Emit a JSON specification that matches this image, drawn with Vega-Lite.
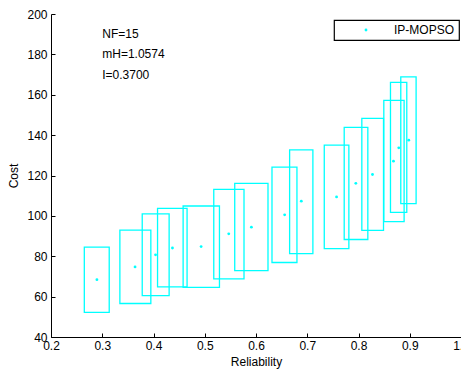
{
  "$schema": "https://vega.github.io/schema/vega-lite/v6.json",
  "width": 410,
  "height": 323,
  "autosize": {"type": "none"},
  "padding": {"left": 51, "top": 14, "right": 0, "bottom": 34},
  "background": "white",
  "config": {
    "view": {"stroke": null},
    "font": "Liberation Sans",
    "axis": {
      "grid": false,
      "domainColor": "black",
      "tickColor": "black",
      "labelColor": "black",
      "titleColor": "black",
      "labelFont": "Liberation Sans",
      "titleFont": "Liberation Sans",
      "labelFontSize": 12,
      "titleFontSize": 12,
      "titleFontWeight": "normal",
      "tickSize": -4,
      "domainWidth": 1,
      "tickWidth": 1
    },
    "legend": {
      "orient": "none",
      "legendX": 283,
      "legendY": 6,
      "strokeColor": "black",
      "strokeWidth": 1.2,
      "fillColor": "white",
      "padding": 4,
      "symbolOffset": 22,
      "labelOffset": 22,
      "labelFontSize": 12,
      "labelFont": "Liberation Sans",
      "labelColor": "black",
      "symbolType": "circle",
      "symbolSize": 8,
      "symbolStrokeWidth": 0
    }
  },
  "data": {
    "values": [
      {"r": 0.2896, "c": 68.4, "r1": 0.265, "r2": 0.3136, "c1": 52.2, "c2": 84.5, "series": "IP-MOPSO"},
      {"r": 0.364, "c": 74.7, "r1": 0.3344, "r2": 0.3948, "c1": 56.6, "c2": 92.9, "series": "IP-MOPSO"},
      {"r": 0.404, "c": 80.7, "r1": 0.378, "r2": 0.4305, "c1": 60.5, "c2": 101.0, "series": "IP-MOPSO"},
      {"r": 0.437, "c": 84.1, "r1": 0.4079, "r2": 0.4655, "c1": 64.8, "c2": 103.7, "series": "IP-MOPSO"},
      {"r": 0.4929, "c": 84.8, "r1": 0.4578, "r2": 0.5287, "c1": 64.6, "c2": 104.9, "series": "IP-MOPSO"},
      {"r": 0.5468, "c": 91.1, "r1": 0.5176, "r2": 0.5766, "c1": 68.8, "c2": 113.1, "series": "IP-MOPSO"},
      {"r": 0.591, "c": 94.4, "r1": 0.5585, "r2": 0.6234, "c1": 72.9, "c2": 116.1, "series": "IP-MOPSO"},
      {"r": 0.6559, "c": 100.5, "r1": 0.6312, "r2": 0.6799, "c1": 76.9, "c2": 124.1, "series": "IP-MOPSO"},
      {"r": 0.6884, "c": 107.3, "r1": 0.6656, "r2": 0.711, "c1": 81.3, "c2": 132.7, "series": "IP-MOPSO"},
      {"r": 0.7572, "c": 109.4, "r1": 0.7332, "r2": 0.7812, "c1": 83.8, "c2": 135.0, "series": "IP-MOPSO"},
      {"r": 0.7948, "c": 116.1, "r1": 0.7721, "r2": 0.8182, "c1": 88.3, "c2": 143.8, "series": "IP-MOPSO"},
      {"r": 0.8273, "c": 120.5, "r1": 0.8065, "r2": 0.8488, "c1": 92.8, "c2": 148.3, "series": "IP-MOPSO"},
      {"r": 0.8682, "c": 127.1, "r1": 0.8494, "r2": 0.889, "c1": 97.2, "c2": 157.2, "series": "IP-MOPSO"},
      {"r": 0.8786, "c": 133.7, "r1": 0.8624, "r2": 0.8942, "c1": 101.7, "c2": 166.1, "series": "IP-MOPSO"},
      {"r": 0.8981, "c": 137.5, "r1": 0.8825, "r2": 0.9124, "c1": 106.1, "c2": 168.9, "series": "IP-MOPSO"}
    ]
  },
  "layer": [
    {
      "mark": {"type": "rect", "fill": null, "fillOpacity": 0, "stroke": "#00FFFF", "strokeWidth": 1.3},
      "encoding": {
        "x": {"field": "r1", "type": "quantitative", "scale": {"domain": [0.2, 1], "nice": false, "zero": false},
          "axis": {"title": "Reliability", "values": [0.2, 0.3, 0.4, 0.5, 0.6, 0.7, 0.8, 0.9, 1], "labelPadding": 7, "titlePadding": 5, "labelFlush": false, "labelOverlap": false}},
        "x2": {"field": "r2"},
        "y": {"field": "c1", "type": "quantitative", "scale": {"domain": [40, 200], "nice": false, "zero": false},
          "axis": {"title": "Cost", "values": [40, 60, 80, 100, 120, 140, 160, 180, 200], "labelPadding": 8, "titlePadding": 6, "labelFlush": false, "labelOverlap": false}},
        "y2": {"field": "c2"}
      }
    },
    {
      "mark": {"type": "point", "filled": true, "size": 8, "opacity": 1},
      "encoding": {
        "x": {"field": "r", "type": "quantitative"},
        "y": {"field": "c", "type": "quantitative"},
        "color": {"field": "series", "type": "nominal", "scale": {"domain": ["IP-MOPSO"], "range": ["#00FFFF"]}, "legend": {"title": null}}
      }
    },
    {
      "data": {
        "values": [
          {"label": "NF=15", "r": 0.3, "c": 190},
          {"label": "mH=1.0574", "r": 0.3, "c": 180},
          {"label": "I=0.3700", "r": 0.3, "c": 170}
        ]
      },
      "mark": {"type": "text", "align": "left", "baseline": "middle", "fontSize": 12, "font": "Liberation Sans", "color": "black"},
      "encoding": {
        "x": {"field": "r", "type": "quantitative"},
        "y": {"field": "c", "type": "quantitative"},
        "text": {"field": "label"}
      }
    }
  ]
}
